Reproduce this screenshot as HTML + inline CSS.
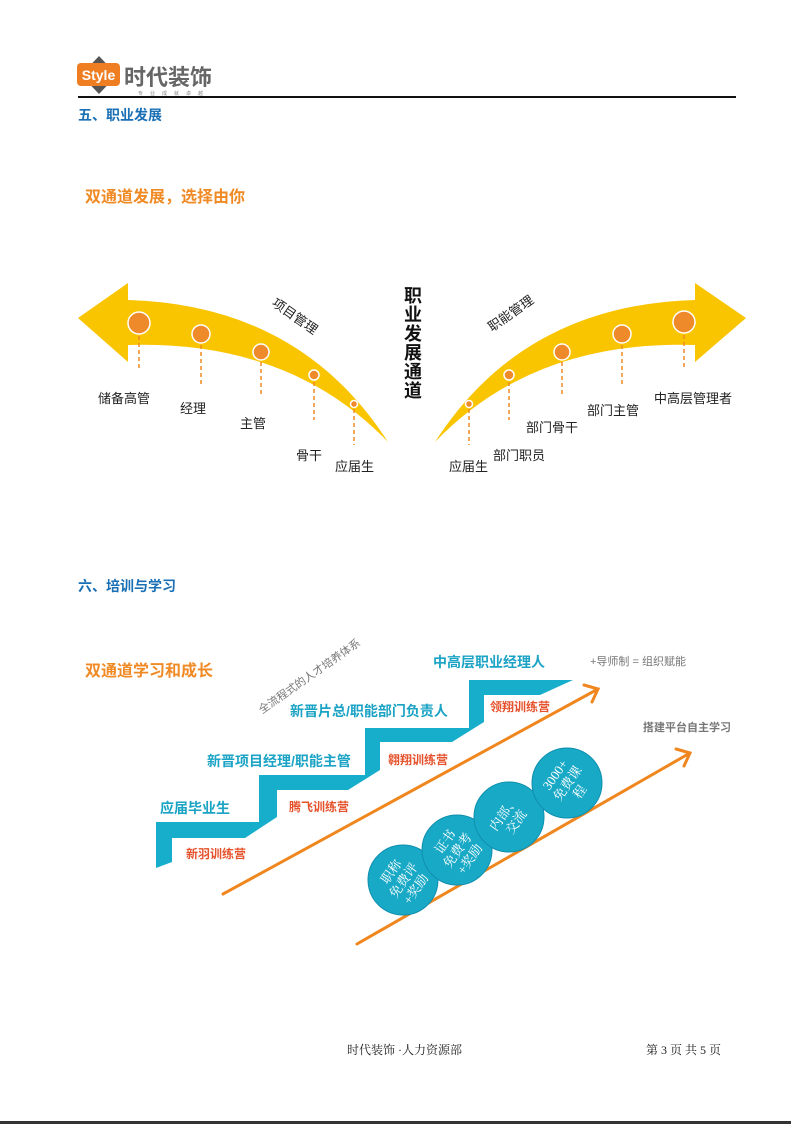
<!DOCTYPE html>
<html><head><meta charset="utf-8"><style>
body{margin:0;width:791px;height:1124px;background:#fff;overflow:hidden}
svg{display:block}
text{font-family:"Liberation Sans","Noto Sans CJK SC",sans-serif}
text.s{font-family:"Liberation Serif","Noto Serif CJK SC",serif}
</style></head><body>
<svg width="791" height="1124" viewBox="0 0 791 1124" xmlns="http://www.w3.org/2000/svg">
<polygon points="99,56 117,75 99,94 81,75" fill="#555"/>
<rect x="77" y="63" width="43" height="23" rx="4" fill="#ef7d22"/>
<text x="98.5" y="80" font-size="14" font-weight="bold" fill="#fff" text-anchor="middle">Style</text>
<text x="124" y="85" font-size="22" font-weight="bold" fill="#666">时代装饰</text>
<text x="138" y="95" font-size="5" fill="#888" letter-spacing="7">专业成就卓越</text>
<rect x="78" y="96" width="658" height="2" fill="#111"/>
<text x="78" y="120" font-size="14" font-weight="bold" fill="#1a6fb5">五、职业发展</text>
<text x="85" y="202" font-size="16" font-weight="bold" fill="#f08a24">双通道发展，选择由你</text>

<path d="M128,300 Q300,305 388,442 Q290,340 128,345 L128,362 L78,318 L128,283 Z" fill="#f9c400"/>
<path d="M695,300 Q523,305 435,442 Q533,340 695,345 L695,362 L746,318 L695,283 Z" fill="#f9c400"/>
<g stroke="#f08a24" stroke-width="1.5" stroke-dasharray="4,3">
<line x1="139" y1="336" x2="139" y2="370"/><line x1="201" y1="345" x2="201" y2="385"/><line x1="261" y1="362" x2="261" y2="395"/><line x1="314" y1="382" x2="314" y2="420"/><line x1="354" y1="409" x2="354" y2="445"/>
<line x1="684" y1="335" x2="684" y2="370"/><line x1="622" y1="345" x2="622" y2="385"/><line x1="562" y1="362" x2="562" y2="395"/><line x1="509" y1="382" x2="509" y2="420"/><line x1="469" y1="409" x2="469" y2="445"/>
</g>
<g fill="#ef8a2b" stroke="#fff" stroke-width="1.5">
<circle cx="139" cy="323" r="11"/><circle cx="201" cy="334" r="9"/><circle cx="261" cy="352" r="8"/><circle cx="314" cy="375" r="5"/><circle cx="354" cy="404" r="3.5"/>
<circle cx="684" cy="322" r="11"/><circle cx="622" cy="334" r="9"/><circle cx="562" cy="352" r="8"/><circle cx="509" cy="375" r="5"/><circle cx="469" cy="404" r="3.5"/>
</g>
<g font-size="13" fill="#222">
<text x="98" y="403">储备高管</text><text x="180" y="413">经理</text><text x="240" y="428">主管</text><text x="296" y="460">骨干</text><text x="335" y="471">应届生</text>
<text x="654" y="403">中高层管理者</text><text x="587" y="415">部门主管</text><text x="526" y="432">部门骨干</text><text x="493" y="460">部门职员</text><text x="449" y="471">应届生</text>
</g>
<text transform="translate(271,305) rotate(35)" font-size="13" fill="#222">项目管理</text>
<text transform="translate(492,332) rotate(-35)" font-size="13" fill="#222">职能管理</text>
<g font-size="18" font-weight="bold" fill="#111" text-anchor="middle">
<text x="413" y="302">职</text><text x="413" y="321">业</text><text x="413" y="340">发</text><text x="413" y="359">展</text><text x="413" y="378">通</text><text x="413" y="397">道</text>
</g>

<text x="78" y="591" font-size="14" font-weight="bold" fill="#1a6fb5">六、培训与学习</text>
<text x="85" y="676" font-size="16" font-weight="bold" fill="#f08a24">双通道学习和成长</text>

<polygon points="156,822 259,822 259,775 365,775 365,728 469,728 469,680 573,680 540,695 484,695 484,722 452,742 380,742 380,770 348,790 277,790 277,817 245,838 172,838 172,862 156,868" fill="#17aecb"/>
<g font-size="14" font-weight="bold" fill="#1aa3c4">
<text x="433" y="667">中高层职业经理人</text>
<text x="290" y="716">新晋片总/职能部门负责人</text>
<text x="207" y="766">新晋项目经理/职能主管</text>
<text x="160" y="813">应届毕业生</text>
</g>
<g font-size="12" font-weight="bold" fill="#e5512a">
<text x="490" y="711">领翔训练营</text><text x="388" y="764">翱翔训练营</text><text x="289" y="811">腾飞训练营</text><text x="186" y="858">新羽训练营</text>
</g>
<text transform="translate(262,714) rotate(-35)" font-size="11" fill="#777">全流程式的人才培养体系</text>
<text x="590" y="665" font-size="11" fill="#777">+导师制 = 组织赋能</text>
<text x="643" y="731" font-size="11" font-weight="bold" fill="#777">搭建平台自主学习</text>

<g stroke="#f0861e" stroke-width="3" fill="none" stroke-linecap="round">
<line x1="223" y1="894" x2="598" y2="689"/><polyline points="584,685 598,689 592,702"/>
<line x1="357" y1="944" x2="690" y2="753"/><polyline points="676,749 690,753 684,766"/>
</g>
<g fill="#18a9c6" stroke="#0f8fae" stroke-width="1">
<circle cx="403" cy="880" r="35"/><circle cx="457" cy="850" r="35"/><circle cx="509" cy="817" r="35"/><circle cx="567" cy="783" r="35"/>
</g>
<g font-size="13" fill="#fff" text-anchor="middle">
<g transform="translate(403,880) rotate(-55)"><text class="s" y="-10">职称</text><text class="s" y="5">免费评</text><text class="s" y="20">+奖励</text></g>
<g transform="translate(457,850) rotate(-55)"><text class="s" y="-10">证书</text><text class="s" y="5">免费考</text><text class="s" y="20">+奖励</text></g>
<g transform="translate(509,817) rotate(-55)"><text class="s" y="-2">内部、</text><text class="s" y="13">交流</text></g>
<g transform="translate(567,783) rotate(-55)"><text class="s" y="-10">3000+</text><text class="s" y="5">免费课</text><text class="s" y="20">程</text></g>
</g>

<text class="s" x="347" y="1054" font-size="12" fill="#222">时代装饰 ·人力资源部</text>
<text class="s" x="646" y="1054" font-size="12" fill="#222">第 3 页 共 5 页</text>
<rect x="0" y="1121" width="791" height="3" fill="#333"/>
</svg>
</body></html>
